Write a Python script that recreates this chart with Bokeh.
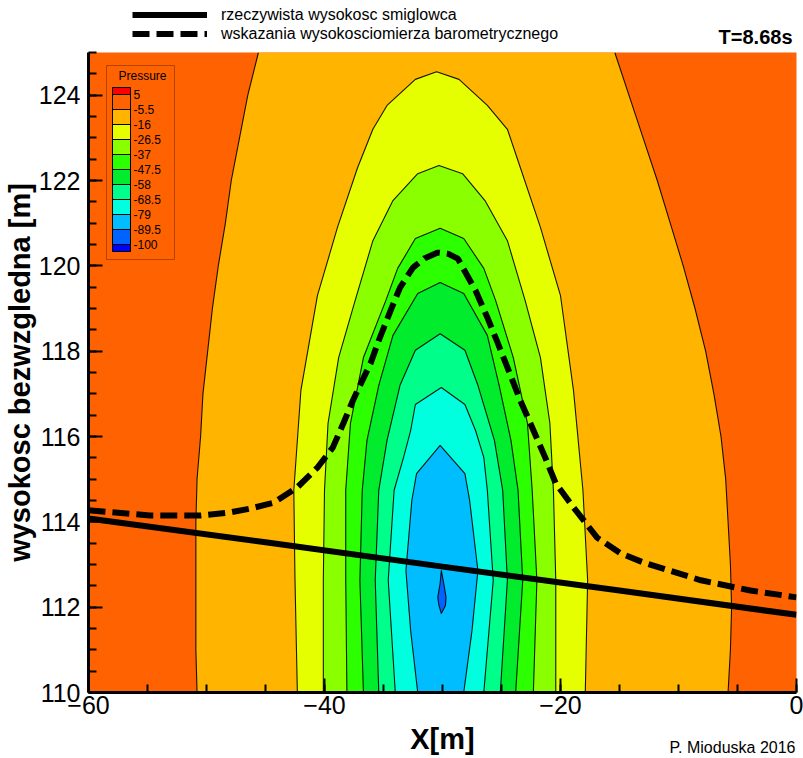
from bokeh.plotting import figure
from bokeh.layouts import column
from bokeh.models import (Range1d, LinearAxis, SingleIntervalTicker, ColorBar, LinearColorMapper,
                          FixedTicker, Legend, LegendItem, Label, CustomJSTickFormatter,
                          BoxAnnotation, AllLabels)
from bokeh.embed import file_html
from bokeh.resources import INLINE

FONT = "Liberation Sans"

# ---------------- data ----------------
# contour levels of the colour legend (top -> bottom)
levels = [5, -5.5, -16, -26.5, -37, -47.5, -58, -68.5, -79, -89.5, -100]
band_colors = ["#ff0000", "#ff6200", "#ffb500", "#e6ff00", "#8aff00", "#2cff00",
               "#00ec2c", "#00ff8a", "#00ffdf", "#00bdff", "#0062ff", "#0000ff"]

# contour -5.5 (open at top and bottom): y, left x, right x
c055_y = [125, 124, 123, 122, 121, 120, 119, 118, 117, 116, 115, 114, 113, 112, 111, 110]
c055_xl = [-45.6, -46.5, -47.2, -47.9, -48.4, -49.0, -49.5, -49.9, -50.3, -50.5, -50.8, -50.9, -50.9, -50.9, -50.9, -50.8]
c055_xr = [-15.4, -14.2, -13.0, -11.8, -10.7, -9.6, -8.6, -7.7, -7.0, -6.4, -6.0, -5.8, -5.6, -5.5, -5.6, -5.8]

# contour -16 (apex at top, open at bottom)
c16_y = [124.55, 124.37, 123.76, 123.2, 122.3, 120.9, 119.3, 117.08, 114.74, 112.63, 110]
c16_xl = [-30.5, -32.3, -34.7, -35.9, -37.2, -38.9, -40.6, -42.0, -42.6, -42.5, -42.3]
c16_xr = [-30.5, -28.6, -26.2, -24.5, -23.4, -21.7, -20.0, -18.9, -18.1, -17.7, -17.9]

# contour -26.5
c265_y = [122.35, 122.16, 121.53, 120.59, 119.19, 117.85, 116.31, 114.74, 112.63, 110]
c265_xl = [-30.3, -32.1, -34.2, -35.9, -37.4, -38.8, -39.7, -40.0, -40.1, -40.1]
c265_xr = [-30.3, -28.3, -26.4, -24.5, -23.0, -21.7, -20.9, -20.6, -20.4, -20.4]

# contour -37
c37_y = [120.88, 120.64, 119.94, 119.19, 117.85, 116.31, 114.74, 112.63, 110]
c37_xl = [-30.2, -32.3, -33.8, -34.8, -36.7, -37.8, -38.2, -38.2, -38.1]
c37_xr = [-30.2, -28.2, -26.5, -25.5, -24.0, -22.8, -22.4, -22.0, -22.3]

# contour -47.5
c475_y = [119.61, 119.35, 118.37, 117.2, 115.91, 114.74, 112.63, 110]
c475_xl = [-30.2, -32.1, -34.2, -35.4, -36.4, -36.8, -37.0, -36.7]
c475_xr = [-30.2, -28.2, -26.2, -25.2, -24.2, -23.6, -23.2, -23.8]

# contour -58
c58_y = [118.41, 118.02, 117.2, 115.91, 114.74, 112.63, 110]
c58_xl = [-30.2, -32.3, -33.6, -34.7, -35.4, -35.7, -35.4]
c58_xr = [-30.2, -28.1, -27.0, -25.6, -24.9, -24.5, -25.1]

# contour -68.5
c685_y = [117.15, 116.75, 116.14, 115.51, 114.74, 112.63, 110]
c685_xl = [-30.1, -32.3, -32.7, -33.3, -34.1, -34.6, -34.0]
c685_xr = [-30.1, -28.1, -27.2, -26.5, -26.2, -25.7, -26.5]

# contour -79
c79_y = [115.79, 115.13, 114.5, 112.86, 111.45, 110]
c79_xl = [-30.2, -32.2, -32.6, -33.1, -32.7, -32.1]
c79_xr = [-30.2, -28.1, -27.7, -27.0, -27.5, -28.2]

# contour -89.5 (small closed lens)
c895_y = [112.86, 112.56, 112.23, 112.04, 111.85]
c895_xl = [-30.1, -30.2, -30.4, -30.3, -30.1]
c895_xr = [-30.1, -29.9, -29.7, -29.75, -30.1]

# real helicopter height
heli_x = [-60, -45, -30, -15, 0]
heli_y = [114.08, 113.52, 112.95, 112.39, 111.82]

# barometric altimeter reading
baro_x = [-60, -54.8, -50.5, -48.0, -46.3, -44.3, -42.3, -40.6, -39.3, -38.4, -37.6, -36.8,
          -36.1, -35.4, -34.4, -33.6, -32.5, -31.5, -30.4, -29.5, -28.7, -27.2, -26.2, -25.3,
          -24.5, -23.4, -22.4, -21.3, -20.4, -18.9, -16.9, -14.9, -13.0, -8.1, -3.9, 0]
baro_y = [114.27, 114.15, 114.15, 114.22, 114.31, 114.45, 114.81, 115.27, 115.74, 116.31, 116.84, 117.31,
          117.71, 118.25, 118.95, 119.49, 119.96, 120.18, 120.31, 120.28, 120.17, 119.42, 118.79, 118.18,
          117.62, 116.84, 116.21, 115.51, 114.9, 114.34, 113.63, 113.26, 113.05, 112.63, 112.39, 112.23]

label_heli = "rzeczywista wysokosc smiglowca"
label_baro = "wskazania wysokosciomierza barometrycznego"

HEAD_H = 48
FOOT_H = 34
MAIN_H = 758 - HEAD_H - FOOT_H
LEFT = 88   # left border shared by all rows (column aligns the frames)

# ---------------- header (line legend, time) ----------------
# the header shows no data: its ranges lie away from the series, only the legend samples appear
head = figure(width=803, height=HEAD_H, output_backend="svg", toolbar_location=None,
              x_range=Range1d(1000, 1001), y_range=Range1d(1000, 1001),
              x_axis_type=None, y_axis_type=None, min_border=0)
head.outline_line_color = None
head.background_fill_color = "white"
h_heli = head.line(heli_x, heli_y, line_color="black", line_width=6)
h_baro = head.line(baro_x, baro_y, line_color="black", line_width=6, line_dash="17 7")
legend = Legend(items=[LegendItem(label=label_heli, renderers=[h_heli]),
                       LegendItem(label=label_baro, renderers=[h_baro])],
                location=(132 - LEFT, 5), orientation="vertical",
                glyph_width=75, glyph_height=19, label_height=19, label_standoff=14,
                spacing=0, padding=0, margin=0,
                border_line_color=None, background_fill_alpha=0,
                label_text_font=FONT, label_text_font_size="16px", label_text_color="black")
head.add_layout(legend, "center")
head.add_layout(Label(x=792 - LEFT, y=HEAD_H - 36, x_units="screen", y_units="screen", text="T=8.68s",
                      text_font=FONT, text_font_size="20px", text_font_style="bold",
                      text_align="right", text_baseline="middle", text_color="black"))

# ---------------- main plot ----------------
p = figure(width=803, height=MAIN_H, output_backend="svg", toolbar_location=None,
           x_range=Range1d(-60, 0), y_range=Range1d(110, 125),
           x_axis_type=None, y_axis_type=None,
           min_border_left=LEFT, min_border_right=7, min_border_top=52 - HEAD_H, min_border_bottom=32)
p.outline_line_color = None
p.background_fill_color = band_colors[1]
p.border_fill_color = "white"

apex_sets = [(c16_y, c16_xl, c16_xr, band_colors[3]),
             (c265_y, c265_xl, c265_xr, band_colors[4]),
             (c37_y, c37_xl, c37_xr, band_colors[5]),
             (c475_y, c475_xl, c475_xr, band_colors[6]),
             (c58_y, c58_xl, c58_xr, band_colors[7]),
             (c685_y, c685_xl, c685_xr, band_colors[8]),
             (c79_y, c79_xl, c79_xr, band_colors[9]),
             (c895_y, c895_xl, c895_xr, band_colors[10])]

patch_xs = [c055_xl + c055_xr[::-1]]
patch_ys = [c055_y + c055_y[::-1]]
patch_c = [band_colors[2]]
line_xs = [c055_xl, c055_xr]
line_ys = [c055_y, c055_y]
for ys, xl, xr, col in apex_sets:
    patch_xs.append(xl + xr[::-1])
    patch_ys.append(ys + ys[::-1])
    patch_c.append(col)
    line_xs.append(xl[::-1] + xr)
    line_ys.append(ys[::-1] + ys)

p.patches(xs=patch_xs, ys=patch_ys, fill_color=patch_c, line_color=None)
p.multi_line(xs=line_xs, ys=line_ys, line_color="black", line_width=1.1, line_alpha=0.9)

p.line(heli_x, heli_y, line_color="black", line_width=6)
p.line(baro_x, baro_y, line_color="black", line_width=6, line_dash="17 7")

xaxis = LinearAxis(ticker=SingleIntervalTicker(interval=20, num_minor_ticks=4))
yaxis = LinearAxis(ticker=SingleIntervalTicker(interval=2, num_minor_ticks=4),
                   axis_label="wysokosc bezwzgledna [m]")
for ax in (xaxis, yaxis):
    ax.axis_line_width = 3
    ax.axis_line_color = "black"
    ax.major_tick_in = 14
    ax.major_tick_out = 0
    ax.minor_tick_in = 8
    ax.minor_tick_out = 0
    ax.major_tick_line_width = 2
    ax.minor_tick_line_width = 2
    ax.major_tick_line_color = "black"
    ax.minor_tick_line_color = "black"
    ax.major_label_text_font = FONT
    ax.major_label_text_font_size = "25px"
    ax.major_label_text_color = "black"
    ax.axis_label_text_font = FONT
    ax.axis_label_text_font_size = "29px"
    ax.axis_label_text_font_style = "bold"
    ax.axis_label_text_color = "black"
xaxis.major_label_standoff = 3
yaxis.major_label_standoff = 8
yaxis.axis_label_standoff = 0
p.add_layout(xaxis, "below")
p.add_layout(yaxis, "left")

# pressure colour legend (inside the frame)
half = (levels[0] - levels[-1]) / (len(levels) - 1) / 2
rev = band_colors[::-1]
palette = [rev[0]] + [c for c in rev[1:-1] for _ in range(2)] + [rev[-1]]
mapper = LinearColorMapper(palette=palette, low=levels[-1] - half, high=levels[0] + half)
cbar = ColorBar(color_mapper=mapper, orientation="vertical", width=18, height=164,
                location=(24, 441), padding=0,
                ticker=FixedTicker(ticks=levels),
                formatter=CustomJSTickFormatter(code="return tick.toString()"),
                major_label_policy=AllLabels(),
                major_label_text_font=FONT, major_label_text_font_size="12px",
                major_label_text_color="black",
                label_standoff=3,
                major_tick_in=18, major_tick_out=0, major_tick_line_color="black",
                minor_tick_line_color=None, bar_line_color="black",
                border_line_color=None, background_fill_alpha=0)
p.add_layout(cbar, "center")
p.add_layout(BoxAnnotation(left=18, right=86, bottom=433, top=627,
                           left_units="screen", right_units="screen",
                           bottom_units="screen", top_units="screen",
                           fill_alpha=0, line_color="black", line_width=1))
p.add_layout(Label(x=54, y=617, x_units="screen", y_units="screen", text="Pressure",
                   text_font=FONT, text_font_size="12px", text_align="center",
                   text_baseline="middle", text_color="black"))

# ---------------- footer (x title, credit) ----------------
foot = figure(width=803, height=FOOT_H, output_backend="svg", toolbar_location=None,
              x_range=Range1d(0, 1), y_range=Range1d(0, 1), x_axis_type=None, y_axis_type=None,
              min_border=0)
foot.outline_line_color = None
foot.background_fill_color = "white"
foot.add_layout(Label(x=442 - LEFT, y=FOOT_H - 14, x_units="screen", y_units="screen", text="X[m]",
                      text_font=FONT, text_font_size="29px", text_font_style="bold",
                      text_align="center", text_baseline="middle", text_color="black"))
foot.add_layout(Label(x=795 - LEFT, y=FOOT_H - 23, x_units="screen", y_units="screen",
                      text="P. Mioduska 2016",
                      text_font=FONT, text_font_size="16px",
                      text_align="right", text_baseline="middle", text_color="black"))

layout = column(head, p, foot, spacing=0)
open("out.html", "w").write(file_html(layout, INLINE))
